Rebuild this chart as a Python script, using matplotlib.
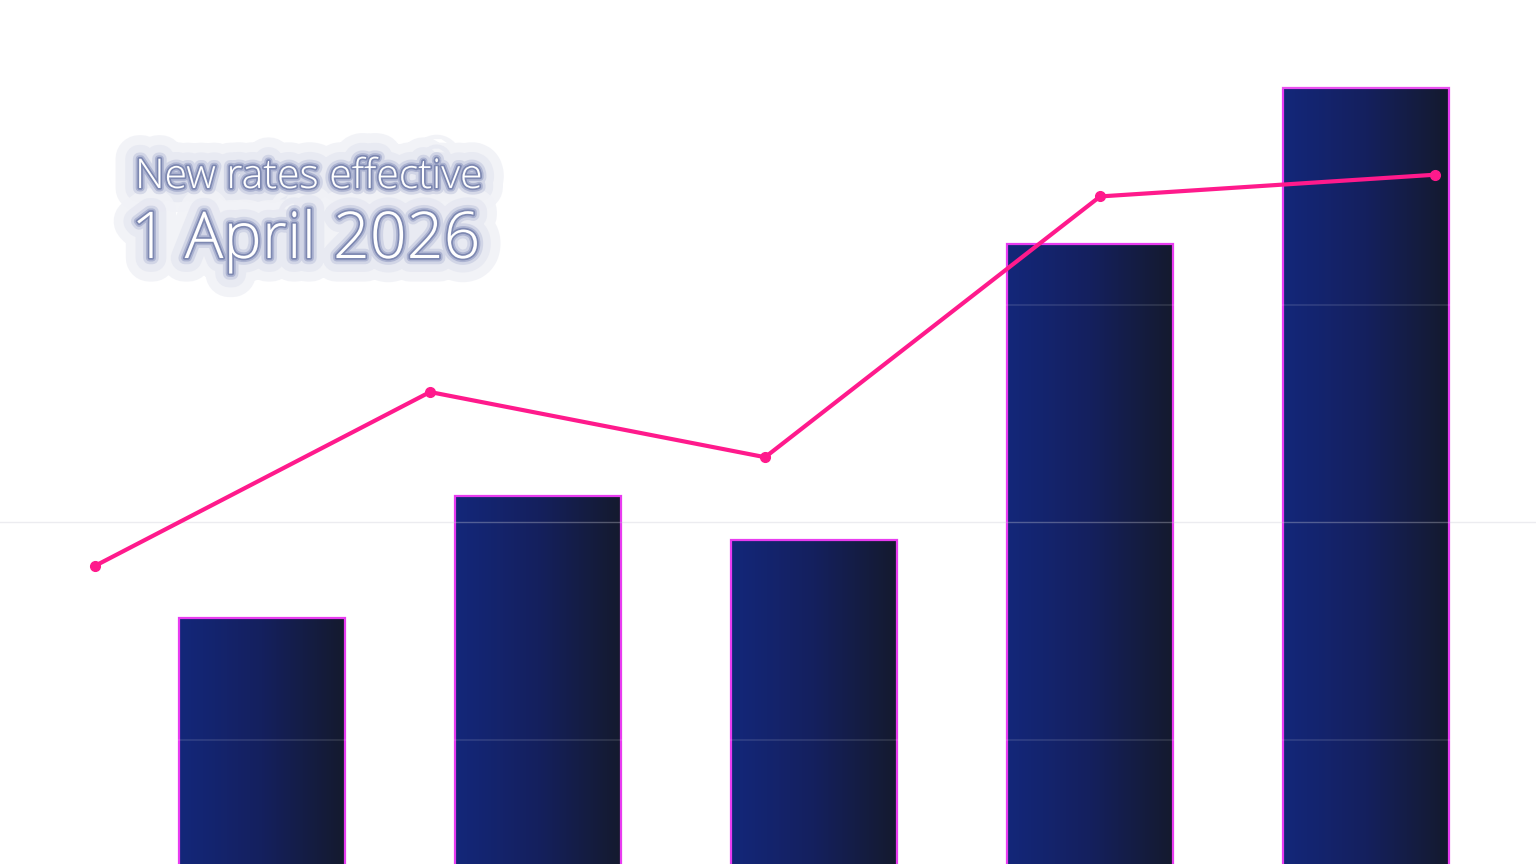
import numpy as np
import matplotlib.pyplot as plt
import matplotlib.patheffects as pe
from matplotlib.colors import LinearSegmentedColormap

# values (grid step = 25)
categories = ["A", "B", "C", "D", "E"]
bar_values = [39.0, 53.0, 48.0, 82.0, 100.0]
line_values = [45.0, 65.0, 57.5, 87.5, 90.0]
grid_values = [25, 50, 75, 100]

fig = plt.figure(figsize=(15.36, 8.64), dpi=100)
ax = fig.add_axes([0, 0, 1, 1])
ax.set_xlim(-0.949, 4.616)
ax.set_ylim(10.7, 110.1)
ax.axis("off")

x = np.arange(len(categories))
bars = ax.bar(x, bar_values, width=0.6, color="none", edgecolor="#e83cf0",
              linewidth=1.6, zorder=3)

# horizontal gradient inside every bar
cmap = LinearSegmentedColormap.from_list("navy", ["#13277a", "#15205e", "#141a2e"])
grad = np.linspace(0, 1, 256).reshape(1, -1)
for b in bars:
    im = ax.imshow(grad, cmap=cmap, aspect="auto", zorder=2,
                   extent=[b.get_x(), b.get_x() + b.get_width(), 0, b.get_height()])
    im.set_clip_path(b)

# grid lines over the bars
for g in grid_values:
    if g == 50:
        ax.axhline(g, color="#c9cbd6", alpha=0.35, linewidth=1, zorder=4)
    else:
        ax.axhline(g, color="white", alpha=0.12, linewidth=1.2, zorder=4)

# line series on its own x scale
ax2 = ax.twiny()
ax2.set_xlim(-0.2836, 4.301)
ax2.set_ylim(ax.get_ylim())
ax2.axis("off")
ax2.plot(x, line_values, color="#ff1a8c", linewidth=3, marker="o",
         markersize=7, zorder=5)

# title block: soft halo first, then the glowing white text
titles = [
    ("New rates effective", 135, 188, 29.5),
    ("1 April 2026", 131, 258, 46.5),
]
halo = [
    pe.Stroke(linewidth=34, foreground="#f1f2f7", alpha=0.9),
    pe.Stroke(linewidth=20, foreground="#e7e9f2", alpha=0.9),
    pe.Normal(),
]
glow = [
    pe.Stroke(linewidth=9, foreground="#c3c8de", alpha=0.6),
    pe.Stroke(linewidth=5, foreground="#8e98c0", alpha=0.55),
    pe.Stroke(linewidth=2.5, foreground="#5f6c9c", alpha=0.6),
    pe.Normal(),
]
for txt, px, py, fs in titles:
    fig.text(px / 1536, 1 - py / 864, txt, color="#e7e9f2", fontsize=fs,
             family="Open Sans", fontweight="light", path_effects=halo, zorder=9)
for txt, px, py, fs in titles:
    fig.text(px / 1536, 1 - py / 864, txt, color="white", fontsize=fs,
             family="Open Sans", fontweight="light", path_effects=glow, zorder=10)

fig.savefig("out.png", dpi=100, facecolor="white")
